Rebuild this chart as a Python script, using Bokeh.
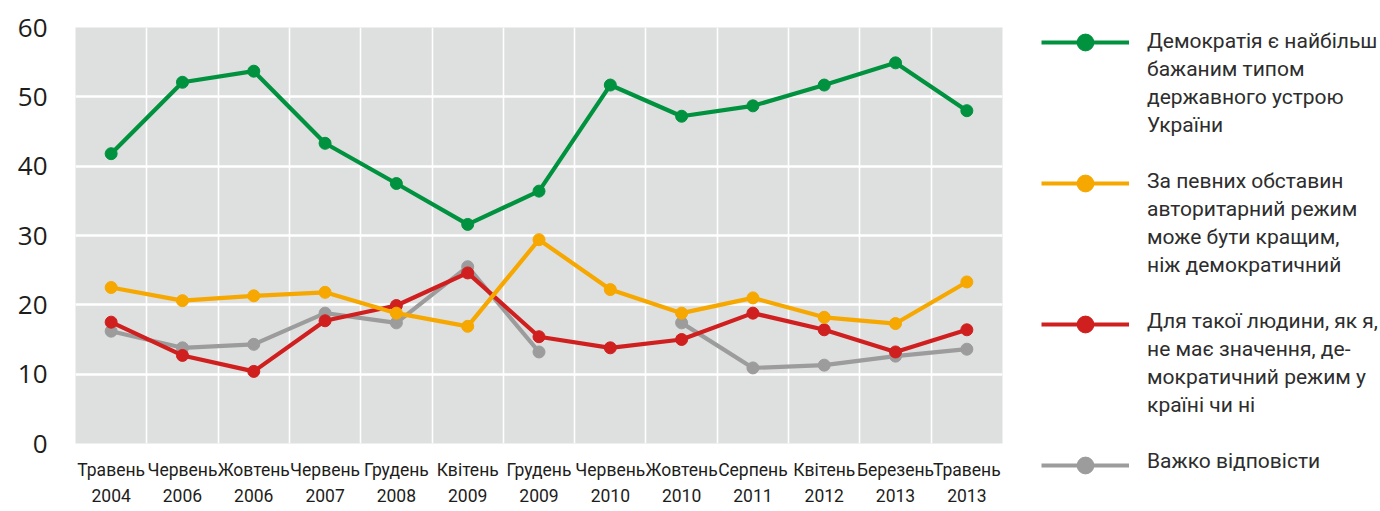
from bokeh.plotting import figure
from bokeh.models import FixedTicker, Range1d, ColumnDataSource, Legend, LegendItem
from bokeh.embed import file_html
from bokeh.resources import INLINE

nan = float("nan")

# ---- data ----
months = ["Травень", "Червень", "Жовтень", "Червень", "Грудень", "Квітень", "Грудень",
          "Червень", "Жовтень", "Серпень", "Квітень", "Березень", "Травень"]
years = ["2004", "2006", "2006", "2007", "2008", "2009", "2009",
         "2010", "2010", "2011", "2012", "2013", "2013"]

democracy = [41.8, 52.1, 53.7, 43.3, 37.5, 31.6, 36.4, 51.7, 47.2, 48.7, 51.7, 54.9, 48.0]
authoritarian = [22.5, 20.6, 21.3, 21.8, 18.8, 16.9, 29.4, 22.2, 18.8, 21.0, 18.2, 17.3, 23.3]
no_matter = [17.5, 12.7, 10.4, 17.7, 19.9, 24.6, 15.4, 13.8, 15.0, 18.8, 16.4, 13.2, 16.4]
hard_to_say = [16.2, 13.8, 14.3, 18.8, 17.4, 25.5, 13.2, nan, 17.4, 10.9, 11.3, 12.6, 13.6]

series_labels = [
    ["Демократія є найбільш", "бажаним типом", "державного устрою", "України"],
    ["За певних обставин", "авторитарний режим", "може бути кращим,", "ніж демократичний"],
    ["Для такої людини, як я,", "не має значення, де-", "мократичний режим у", "країні чи ні"],
    ["Важко відповісти"],
]
series_values = [democracy, authoritarian, no_matter, hard_to_say]
colors = ["#00923f", "#f6a800", "#d01f1f", "#9c9c9c"]

y_ticks = [0, 10, 20, 30, 40, 50, 60]

# ---- layout constants (page pixels) ----
FRAME_L, FRAME_T, FRAME_R, FRAME_B = 75, 27, 1002, 443
PAGE_H = 511

n = len(months)
xs = list(range(n))

p = figure(frame_width=FRAME_R - FRAME_L, frame_height=FRAME_B - FRAME_T,
           x_range=Range1d(-0.5, n - 0.5), y_range=Range1d(0, 60),
           output_backend="svg", toolbar_location=None,
           min_border_left=FRAME_L, min_border_right=0,
           min_border_top=FRAME_T, min_border_bottom=PAGE_H - FRAME_B)
p.background_fill_color = "#dedfdf"
p.border_fill_color = "white"
p.outline_line_color = None

p.ygrid.ticker = FixedTicker(ticks=y_ticks[1:-1])
p.ygrid.grid_line_color = "white"
p.ygrid.grid_line_width = 2.5
p.xgrid.ticker = FixedTicker(ticks=[i + 0.5 for i in range(n - 1)])
p.xgrid.grid_line_color = "white"
p.xgrid.grid_line_width = 1.6

p.yaxis.ticker = FixedTicker(ticks=y_ticks)
p.yaxis.axis_line_color = None
p.yaxis.major_tick_line_color = None
p.yaxis.minor_tick_line_color = None
p.yaxis.major_label_text_font = "Open Sans"
p.yaxis.major_label_text_font_size = "26px"
p.yaxis.major_label_text_color = "#1d1d1b"
p.yaxis.major_label_standoff = 22

p.xaxis.ticker = FixedTicker(ticks=xs)
p.xaxis.major_label_overrides = {i: f"{m}\n{y}" for i, (m, y) in enumerate(zip(months, years))}
p.xaxis.axis_line_color = None
p.xaxis.major_tick_line_color = None
p.xaxis.minor_tick_line_color = None
p.xaxis.major_label_text_font = "Roboto"
p.xaxis.major_label_text_font_size = "17.5px"
p.xaxis.major_label_text_color = "#1d1d1b"
p.xaxis.major_label_text_line_height = 1.3
p.xaxis.major_label_standoff = 10

# draw order: gray, red, orange, green
renderers = {}
for i in reversed(range(len(series_values))):
    src = ColumnDataSource(dict(x=xs, y=series_values[i]))
    lr = p.line("x", "y", source=src, line_color=colors[i], line_width=4.2)
    sr = p.scatter("x", "y", source=src, size=12, fill_color=colors[i], line_color=colors[i])
    renderers[i] = (lr, sr)

# ---- legend: glyph column + text column in the right-hand panels ----
GLYPH_H, GLYPH_W, GLYPH_STEP = 42, 88, 141
GLYPH_X, TEXT_X = 1041, 1147
glyph_first_center = 42.0
text_first_center = 41.0
PANEL_A_W = 545          # width that Bokeh reserves for the glyph legend panel

glyph_items = [LegendItem(label=" ", renderers=list(renderers[i])) for i in range(len(series_values))]
legend_glyphs = Legend(items=glyph_items, glyph_width=GLYPH_W, glyph_height=GLYPH_H,
                       label_height=1, label_width=1, label_text_font_size="1px",
                       label_standoff=0, padding=0, margin=0, spacing=GLYPH_STEP - GLYPH_H,
                       border_line_color=None, background_fill_alpha=0)
glyph_block_h = len(glyph_items) * GLYPH_H + (len(glyph_items) - 1) * (GLYPH_STEP - GLYPH_H)
legend_glyphs.location = (GLYPH_X - FRAME_R,
                          FRAME_B - (glyph_first_center - GLYPH_H / 2 + glyph_block_h))
p.add_layout(legend_glyphs, "right")

# text column: one legend row per text line, blank rows between groups
LINE_H = 28
group_start_rows = [0, 5, 10, 15]
n_rows = group_start_rows[-1] + len(series_labels[-1])
rows = [" "] * n_rows
for start, lines in zip(group_start_rows, series_labels):
    for k, t in enumerate(lines):
        rows[start + k] = t
text_items = [LegendItem(label=t, renderers=[]) for t in rows]
legend_text = Legend(items=text_items, glyph_width=0, glyph_height=LINE_H,
                     label_height=LINE_H, label_standoff=0, padding=0, margin=0, spacing=0,
                     label_text_font="Roboto", label_text_font_size="21px",
                     label_text_color="#2d2d2d", label_text_baseline="middle",
                     border_line_color=None, background_fill_alpha=0)
text_block_h = n_rows * LINE_H
legend_text.location = (TEXT_X - (FRAME_R + PANEL_A_W),
                        FRAME_B - (text_first_center - LINE_H / 2 + text_block_h))
p.add_layout(legend_text, "right")

open("out.html", "w").write(file_html(p, INLINE))
